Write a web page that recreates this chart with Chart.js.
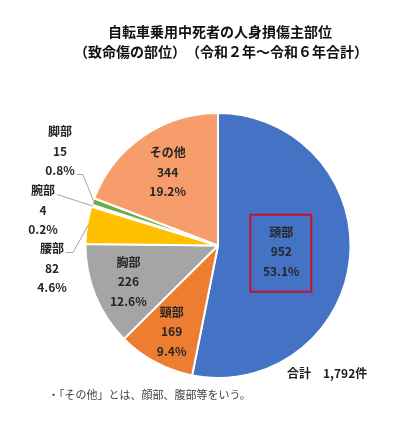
<!DOCTYPE html>
<html lang="ja">
<head>
<meta charset="utf-8">
<script src="https://cdn.jsdelivr.net/npm/chart.js@4/dist/chart.umd.min.js"></script>
<style>
  html, body { margin: 0; padding: 0; background: #fff; }
  #wrap { position: relative; width: 415px; height: 422px; }
</style>
</head>
<body>
<div id="wrap"><canvas id="pie"></canvas></div>
<script>
/* 自転車乗用中死者の人身損傷主部位 — pie */

const parts   = ['頭部', '頸部', '胸部', '腰部', '腕部', '脚部', 'その他'];
const deaths  = [952, 169, 226, 82, 4, 15, 344];
const colours = ['#4472C4', '#ED7D31', '#A5A5A5', '#FFC000', '#FFF3CC', '#70AD47', '#F79C6B'];
const titleLines = ['自転車乗用中死者の人身損傷主部位', '（致命傷の部位）　（令和２年～令和６年合計）'];
const footnote   = '・「その他」とは、顔部、腹部等をいう。';

const total = deaths.reduce((a, b) => a + b, 0);
const pct = v => (v / total * 100).toFixed(1) + '%';

const FONT = '"Noto Sans CJK JP", "Noto Sans", sans-serif';
const LINE_H = 19.5;

// label placement: inside slices use a radius fraction, small slices go outside
const insideAt  = { 0: 0.48, 1: 0.74, 2: 0.73, 6: 0.67 };
const outsideAt = {
  3: { dx: -166, dy: 22.5,  line: 0, stub: 7 },
  4: { dx: -175, dy: -35.5, line: 0, stub: 0 },
  5: { dx: -158, dy: -94.5, line: 2, stub: 6 },
};

// two title lines; the second one is spread out wider like the original
const titlePlugin = {
  id: 'twoLineTitle',
  afterDraw(chart) {
    const ctx = chart.ctx;
    ctx.save();
    ctx.font = `bold 14px ${FONT}`;
    ctx.fillStyle = '#111';
    ctx.textAlign = 'center';
    ctx.textBaseline = 'middle';
    ctx.fillText(titleLines[0], 220, 32);
    const w = ctx.measureText(titleLines[1]).width;
    const extra = Math.max(0, (282 - w) / titleLines[1].length);
    if ('letterSpacing' in ctx) ctx.letterSpacing = extra + 'px';
    ctx.fillText(titleLines[1], 221 + extra / 2, 52);
    ctx.restore();
  },
};

const labelPlugin = {
  id: 'sliceLabels',
  afterDatasetsDraw(chart) {
    const ctx = chart.ctx;
    const arcs = chart.getDatasetMeta(0).data;
    ctx.save();
    ctx.font = `bold 12px ${FONT}`;
    ctx.fillStyle = '#262626';
    ctx.textAlign = 'center';
    ctx.textBaseline = 'middle';

    arcs.forEach((arc, i) => {
      const { x, y, startAngle, endAngle, outerRadius } = arc;
      const mid = (startAngle + endAngle) / 2;
      const lines = [parts[i], String(deaths[i]), pct(deaths[i])];
      let cx, cy;

      if (insideAt[i] !== undefined) {
        cx = x + Math.cos(mid) * outerRadius * insideAt[i];
        cy = y + Math.sin(mid) * outerRadius * insideAt[i];
      } else {
        const o = outsideAt[i];
        cx = x + o.dx; cy = y + o.dy;
        // leader line from the label to the slice edge
        const ly = cy + (o.line - 1) * LINE_H;
        const w = ctx.measureText(lines[o.line]).width;
        const sx = cx + w / 2 + 2, sy = ly + 4;
        ctx.beginPath();
        ctx.strokeStyle = '#A6A6A6';
        ctx.lineWidth = 1;
        ctx.moveTo(sx, sy);
        ctx.lineTo(sx + o.stub, sy);
        ctx.lineTo(x + Math.cos(mid) * (outerRadius - 1), y + Math.sin(mid) * (outerRadius - 1));
        ctx.stroke();
      }

      lines.forEach((t, k) => ctx.fillText(t, cx, cy + (k - 1) * LINE_H));

      if (i === 0) {
        ctx.strokeStyle = '#C8102E';
        ctx.lineWidth = 2;
        ctx.strokeRect(cx - 31, cy - 37, 61, 77);
      }
    });

    // total and footnote
    const c = arcs[0];
    ctx.textAlign = 'left';
    ctx.fillStyle = '#1e1e1e';
    ctx.fillText('合計　' + total.toLocaleString('en-US') + '件', c.x + 69, c.y + 128);
    ctx.font = `11px ${FONT}`;
    ctx.fillStyle = '#444';
    ctx.fillText(footnote, 48, 395);
    ctx.restore();
  },
};

new Chart(document.getElementById('pie'), {
  type: 'pie',
  data: {
    labels: parts,
    datasets: [{ data: deaths, backgroundColor: colours, borderColor: '#fff', borderWidth: 2 }],
  },
  options: {
    responsive: true, maintainAspectRatio: false, animation: false,
    layout: { padding: { top: 112, left: 84.5, right: 63.5, bottom: 43 } },
    plugins: {
      legend: { display: false },
      tooltip: { enabled: false },
      title: { display: false },
    },
  },
  plugins: [labelPlugin, titlePlugin],
});
</script>
</body>
</html>
